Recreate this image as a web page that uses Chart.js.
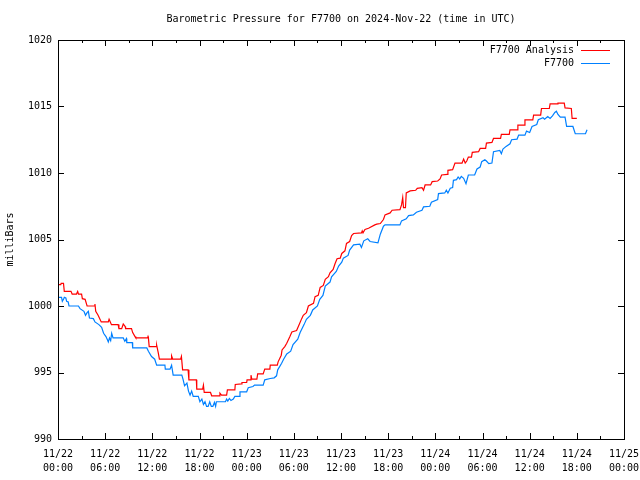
<!DOCTYPE html>
<html>
<head>
<title>Barometric Pressure for F7700</title>
<style>
  body {margin: 0; background: #fff;}
</style>
</head>
<body>
<canvas id="myChart" width="640" height="480"></canvas>
<script src="https://cdn.jsdelivr.net/npm/chart.js@4.4.0/dist/chart.umd.min.js"></script>
<script>
// hours since 11/22 00:00 UTC, pressure in millibars
var redHours = [0,0.35,0.4,0.7,0.8,1.65,1.8,2.35,2.5,2.6,3.0,3.1,3.45,3.7,4.6,4.7,4.8,5.1,5.5,6.4,6.5,6.8,7.65,7.75,8.1,8.3,8.55,8.6,9.35,9.5,9.8,9.9,11.4,11.45,11.5,11.6,12.5,12.55,12.75,12.9,14.4,14.45,14.6,15.6,15.7,15.85,16.55,16.65,17.6,17.65,18.4,18.5,18.6,19.4,19.55,20.5,20.6,20.8,21.45,21.55,22.5,22.55,23.35,23.4,24.0,24.05,24.5,24.55,24.65,25.3,25.4,26.1,26.3,26.95,27.0,27.9,28.0,28.4,28.5,28.85,29.1,29.5,29.75,30.35,30.6,31.0,31.2,31.6,31.85,32.5,32.7,33.1,33.35,33.75,34.0,34.4,34.6,35.0,35.25,35.5,35.9,36.1,36.5,36.7,37.1,37.35,37.6,38.6,38.7,38.8,39.05,39.5,40.3,40.55,41.0,41.4,41.6,42.25,42.5,43.5,43.7,43.85,43.95,44.2,44.3,44.8,45.5,45.7,46.3,46.5,46.7,47.4,47.6,48.3,48.6,48.8,49.5,49.6,50.2,50.5,51.4,51.6,51.8,52.0,52.2,52.6,52.7,53.5,53.7,54.4,54.5,55.2,55.4,56.3,56.4,57.4,57.5,58.4,58.5,59.3,59.4,60.4,60.5,61.4,61.5,62.5,62.6,63.5,63.6,64.4,64.5,65.3,65.4,66.0];
var redMb = [1001.6,1001.6,1001.7,1001.7,1001.1,1001.1,1000.9,1000.9,1001.1,1000.9,1000.9,1000.55,1000.5,1000.0,1000.0,1000.15,999.6,999.3,998.8,998.8,999.0,998.6,998.6,998.3,998.3,998.65,998.45,998.3,998.3,998.0,997.7,997.6,997.6,997.7,997.6,996.95,996.95,997.05,996.5,996.0,996.0,996.25,996.0,996.0,996.2,995.2,995.2,994.45,994.45,993.75,993.75,994.05,993.5,993.5,993.25,993.25,993.45,993.3,993.3,993.7,993.7,994.1,994.15,994.25,994.25,994.45,994.45,994.8,994.5,994.5,994.9,994.9,995.25,995.25,995.55,995.55,995.8,996.3,996.7,996.95,997.2,997.7,998.05,998.15,998.5,999.05,999.3,999.5,1000.0,1000.2,1000.7,1000.8,1001.4,1001.55,1002.0,1002.2,1002.5,1002.75,1003.2,1003.55,1003.6,1003.95,1004.15,1004.7,1004.85,1005.3,1005.45,1005.5,1005.65,1005.5,1005.75,1005.85,1006.1,1006.15,1006.2,1006.5,1006.85,1007.0,1007.2,1007.25,1007.6,1008.15,1007.4,1007.4,1008.5,1008.65,1008.7,1008.85,1008.9,1008.7,1009.1,1009.1,1009.35,1009.4,1009.55,1009.85,1009.9,1010.2,1010.25,1010.75,1010.75,1011.05,1010.75,1010.9,1011.2,1011.2,1011.55,1011.6,1011.85,1011.85,1012.25,1012.3,1012.6,1012.6,1012.9,1012.9,1013.25,1013.25,1013.6,1013.6,1014.0,1014.0,1014.35,1014.35,1014.85,1014.85,1015.2,1015.2,1015.25,1015.25,1014.9,1014.85,1014.1,1014.1];

var blueHours = [0,0.45,0.55,0.7,0.8,1.0,1.1,1.3,1.4,2.6,2.8,3.3,3.5,3.7,3.86,4.0,4.5,4.7,5.2,5.55,5.8,6.1,6.3,6.4,6.55,6.7,6.83,7.0,8.3,8.5,8.7,8.75,9.45,9.5,11.3,11.5,11.9,12.3,12.55,13.6,13.65,14.25,14.45,14.65,15.75,15.9,16.1,16.4,16.6,16.8,17.0,17.2,17.85,18.05,18.3,18.5,18.7,18.9,19.1,19.3,19.5,19.7,19.9,20.05,20.15,21.3,21.45,21.6,21.8,22.0,22.3,22.5,23.1,23.15,24.0,24.2,24.8,25.0,26.1,26.3,27.0,27.5,27.8,27.95,28.45,28.7,29.1,29.6,29.9,30.5,30.8,31.3,31.6,32.1,32.4,33.0,33.3,33.7,34.0,34.6,34.8,35.4,35.7,36.1,36.3,36.9,37.1,37.6,38.4,38.6,38.9,39.4,39.7,40.7,41.0,41.4,41.6,43.5,43.7,44.3,44.6,45.2,45.6,46.3,46.5,47.3,47.5,48.3,48.4,49.2,49.4,49.6,49.9,50.2,50.3,50.7,50.9,51.1,51.3,51.6,51.9,52.2,53.0,53.3,53.7,53.9,54.3,54.5,54.8,55.2,55.4,56.2,56.4,56.6,57.0,57.5,57.7,58.4,58.6,59.4,59.6,60.0,60.3,60.9,61.1,61.7,61.9,62.3,62.6,62.9,63.2,63.4,63.6,63.9,64.5,64.7,65.5,65.8,67.1,67.3];
var blueMb = [1000.65,1000.65,1000.35,1000.5,1000.65,1000.6,1000.35,1000.3,1000.0,1000.0,999.8,999.6,999.3,999.5,999.6,999.1,999.05,998.8,998.6,998.4,997.95,997.7,997.45,997.3,997.6,997.4,997.95,997.6,997.6,997.35,997.55,997.25,997.25,996.85,996.85,996.6,996.2,996.0,995.55,995.55,995.25,995.25,995.55,994.8,994.8,994.5,994.0,994.2,993.6,993.3,993.6,993.2,993.2,992.8,993.0,992.6,992.8,992.45,992.45,992.8,992.45,992.45,992.75,992.45,992.8,992.8,993.0,992.85,993.05,992.9,993.0,993.2,993.2,993.55,993.55,993.85,993.95,994.05,994.05,994.45,994.55,994.6,994.75,995.2,995.7,996.0,996.4,996.6,997.1,997.5,998.0,998.6,999.0,999.3,999.7,1000.0,1000.5,1000.8,1001.5,1001.8,1002.2,1002.6,1003.0,1003.3,1003.6,1003.8,1004.2,1004.6,1004.65,1004.4,1004.9,1005.05,1004.85,1004.75,1005.4,1006.0,1006.1,1006.1,1006.4,1006.55,1006.8,1006.85,1007.05,1007.2,1007.45,1007.5,1007.8,1008.0,1008.45,1008.5,1008.7,1008.5,1008.85,1008.9,1009.45,1009.5,1009.7,1009.55,1009.75,1009.6,1009.2,1009.85,1009.85,1010.3,1010.45,1010.85,1011.0,1010.9,1010.7,1010.75,1011.6,1011.7,1011.45,1011.8,1012.0,1012.2,1012.5,1012.55,1012.85,1012.85,1013.15,1013.05,1013.5,1013.65,1014.0,1014.15,1014.05,1014.25,1014.1,1014.3,1014.55,1014.65,1014.4,1014.2,1014.2,1013.5,1013.5,1012.95,1012.95,1013.25];

var tickDays = ['11/22','11/22','11/22','11/22','11/23','11/23','11/23','11/23','11/24','11/24','11/24','11/24','11/25'];
var tickTimes = ['00:00','06:00','12:00','18:00','00:00','06:00','12:00','18:00','00:00','06:00','12:00','18:00','00:00'];
var chartTitle = 'Barometric Pressure for F7700 on 2024-Nov-22 (time in UTC)';

var monoFont = '"DejaVu Sans Mono", "Liberation Mono", monospace';

function toPoints(hours, vals) {
	var pts = [];
	for (var i = 0; i < hours.length; i++) pts.push({x: hours[i], y: vals[i]});
	return pts;
}

// gnuplot style: box with inward ticks, title over the plot, legend text left of the line sample
var gnuFrame = {
	id: 'gnuFrame',
	afterDraw: function(chart) {
		var ctx = chart.ctx, a = chart.chartArea;
		var xs = chart.scales.x, ys = chart.scales.y;
		ctx.save();
		ctx.strokeStyle = '#000';
		ctx.lineWidth = 1;
		ctx.strokeRect(a.left + 0.5, a.top + 0.5, a.right - a.left, a.bottom - a.top);
		ctx.beginPath();
		for (var h = 0; h <= 72; h += 3) {
			var px = Math.round(xs.getPixelForValue(h)) + 0.5;
			var len = (h % 6 === 0) ? 6 : 3;
			ctx.moveTo(px, a.bottom); ctx.lineTo(px, a.bottom - len);
			ctx.moveTo(px, a.top); ctx.lineTo(px, a.top + len);
		}
		for (var v = 990; v <= 1020; v += 5) {
			var py = Math.round(ys.getPixelForValue(v)) + 0.5;
			ctx.moveTo(a.left, py); ctx.lineTo(a.left + 6, py);
			ctx.moveTo(a.right, py); ctx.lineTo(a.right - 6, py);
		}
		ctx.stroke();

		ctx.font = '10px ' + monoFont;
		ctx.fillStyle = '#000';
		ctx.textBaseline = 'middle';
		ctx.textAlign = 'center';
		ctx.fillText(chartTitle, (a.left + a.right) / 2, 19);

		ctx.textAlign = 'right';
		chart.data.datasets.forEach(function(ds, i) {
			var ly = 50 + i * 13;
			ctx.fillStyle = '#000';
			ctx.fillText(ds.label, 574, ly);
			ctx.strokeStyle = ds.borderColor;
			ctx.beginPath();
			ctx.moveTo(581, ly + 0.5); ctx.lineTo(610, ly + 0.5);
			ctx.stroke();
		});
		ctx.restore();
	}
};

var ctx = document.getElementById('myChart').getContext('2d');
var chart = new Chart(ctx, {
	type: 'line',
	data: {
		datasets: [{
			label: 'F7700 Analysis',
			data: toPoints(redHours, redMb),
			borderColor: '#ff0000',
			borderWidth: 1.2,
			pointRadius: 0,
			tension: 0
		}, {
			label: 'F7700',
			data: toPoints(blueHours, blueMb),
			borderColor: '#0080ff',
			borderWidth: 1.2,
			pointRadius: 0,
			tension: 0
		}]
	},
	options: {
		responsive: false,
		animation: false,
		layout: {padding: {left: 0, right: 16, top: 40, bottom: 0}},
		plugins: {
			legend: {display: false},
			tooltip: {enabled: false},
			title: {display: false}
		},
		scales: {
			x: {
				type: 'linear',
				min: 0,
				max: 72,
				grid: {display: false, drawTicks: false},
				border: {display: false},
				afterFit: function(scale) {
					scale.height = 41;
					scale.paddingLeft = 0;
					scale.paddingRight = 0;
				},
				ticks: {
					stepSize: 6,
					autoSkip: false,
					maxRotation: 0,
					padding: 8,
					color: '#000',
					font: {family: monoFont, size: 10, lineHeight: 1.4},
					callback: function(value) {
						var i = Math.round(value / 6);
						return [tickDays[i], tickTimes[i]];
					}
				}
			},
			y: {
				min: 990,
				max: 1020,
				grid: {display: false, drawTicks: false},
				border: {display: false},
				afterFit: function(scale) {
					scale.width = 58;
					scale.paddingTop = 0;
					scale.paddingBottom = 0;
				},
				title: {
					display: true,
					text: 'milliBars',
					color: '#000',
					font: {family: monoFont, size: 10},
					padding: {top: 4, bottom: 0}
				},
				ticks: {
					stepSize: 5,
					padding: 6,
					color: '#000',
					font: {family: monoFont, size: 10},
					callback: function(value) { return String(value); }
				}
			}
		}
	},
	plugins: [gnuFrame]
});
</script>
</body>
</html>
